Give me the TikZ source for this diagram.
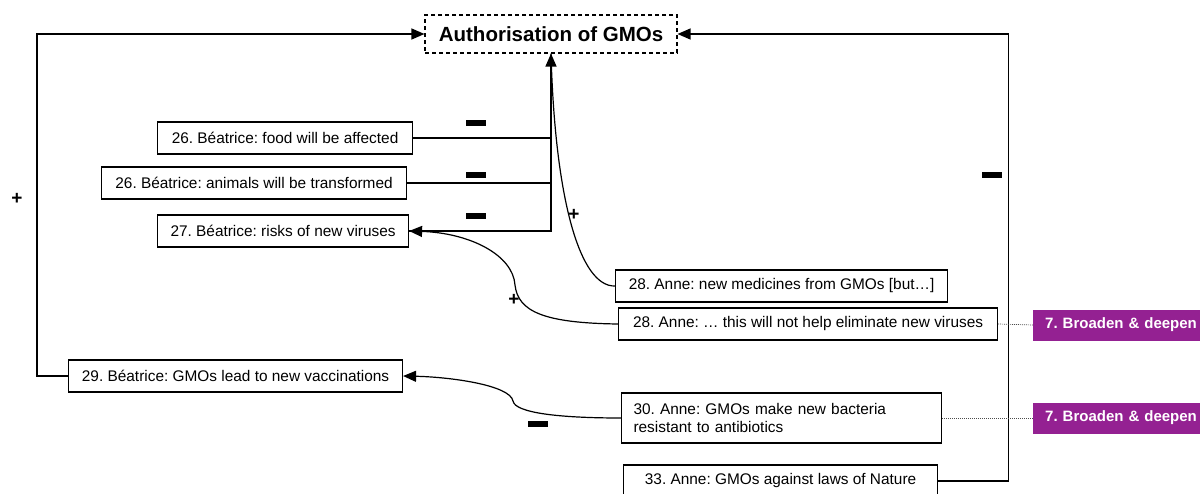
\documentclass[tikz,border=0pt]{standalone}
\usepackage{fontspec}
\setmainfont{Liberation Sans}
\usetikzlibrary{arrows.meta}
\definecolor{stagepurple}{RGB}{148,33,146}
\frenchspacing
\begin{document}
\frenchspacing
\begin{tikzpicture}[x=1pt,y=-1pt,
  every node/.style={font=\fontsize{15.4}{18.5}\selectfont},
  box/.style={draw, line width=1.1pt, anchor=west, minimum height=32pt, inner xsep=12pt, inner ysep=0pt},
  title/.style={draw, dash pattern=on 4pt off 3pt, line width=1.1pt, minimum width=252pt, minimum height=38pt, font=\fontsize{20.5}{24}\selectfont\bfseries},
  stage/.style={fill=stagepurple, text=white, anchor=west, minimum height=31pt, inner xsep=12pt, align=left, text width=170pt, font=\fontsize{15}{18}\selectfont\bfseries},
  link/.style={line width=1.2pt},
  arr/.style={line width=1.2pt, -{Triangle[length=13pt,width=11pt]}},
  note/.style={draw=black!70, line width=0.7pt, dash pattern=on 1pt off 1pt},
  minus/.style={fill=black, minimum width=20pt, minimum height=5.5pt, inner sep=0pt},
  plus/.style={font=\fontsize{19}{19}\selectfont\bfseries, inner sep=0pt}]
\useasboundingbox (0,0) rectangle (1200,493);

% central claim
\node[title] (T) at (551,34) {Authorisation of GMOs};

% arguments
\node[box, minimum width=255pt] (A) at (157,138) {26. Béatrice: food will be affected};
\node[box, minimum width=305pt] (B) at (101,183) {26. Béatrice: animals will be transformed};
\node[box, minimum width=251pt] (C) at (157,231) {27. Béatrice: risks of new viruses};
\node[box, minimum width=332pt] (D) at (615,286) {28. Anne: new medicines from GMOs [but…]};
\node[box, minimum width=379pt] (E) at (618,324) {28. Anne: … this will not help eliminate new viruses};
\node[box, minimum width=334pt] (F) at (68,376) {29. Béatrice: GMOs lead to new vaccinations};
\node[box, minimum height=50pt, text width=296pt, align=left] (G) at (621,418) {30. Anne: GMOs make new bacteria\\resistant to antibiotics};
\node[box, minimum width=314pt] (H) at (623,481) {33. Anne: GMOs against laws of Nature};

% stage labels
\node[stage] (P1) at (1033,325) {7. Broaden \& deepen};
\node[stage] (P2) at (1033,418) {7. Broaden \& deepen};

% trunk into the claim
\draw[arr] (C.east) -| (T.south);
\draw[link] (A.east) -- (A.east -| T.south);
\draw[link] (B.east) -- (B.east -| T.south);

% curved supports
\draw[link] (D.west) .. controls (580,287) and (555,200) .. (T.south);
\draw[arr] (E.west) .. controls (545,323) and (518,312) .. (515,285)
  .. controls (513,255) and (470,233) .. (C.east);
\draw[arr] (G.west) .. controls (560,418) and (515,413) .. (513,401)
  .. controls (510,385) and (450,377) .. (F.east);

% outer loops
\draw[arr] (F.west) -- ++(-31,0) |- (T.west);
\draw[arr] (H.east) -- ++(70,0) |- (T.east);

% notes to stages
\draw[note] (E.east) -- (P1.west);
\draw[note] (G.east) -- (P2.west);

% signs
\node[minus] (m1) at (476,123) {};
\node[minus] (m2) at (476,175) {};
\node[minus] (m3) at (476,216) {};
\node[minus] (m4) at (538,424) {};
\node[minus] (m5) at (992,175) {};
\node[plus] (p1) at (17,199) {+};
\node[plus] (p2) at (574,215) {+};
\node[plus] (p3) at (514,300) {+};
\end{tikzpicture}
\end{document}
